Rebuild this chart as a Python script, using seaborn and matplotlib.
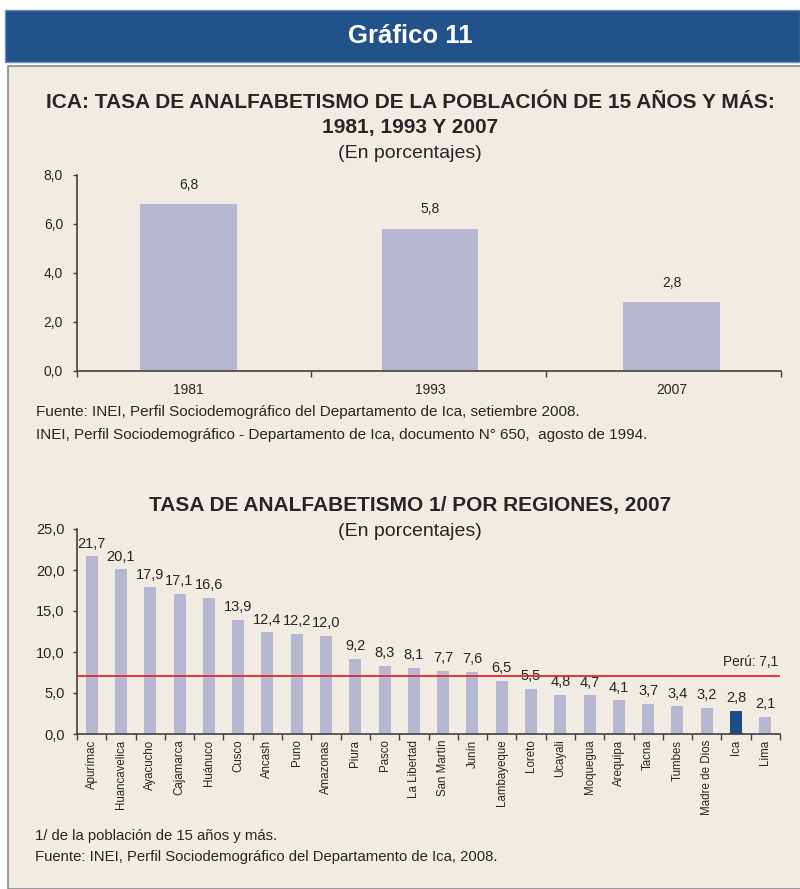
import matplotlib
matplotlib.use("Agg")
import matplotlib.pyplot as plt
import seaborn as sns
import numpy as np
from matplotlib.patches import Rectangle

# ---- data ----
years = ["1981", "1993", "2007"]
ica_rates = [6.8, 5.8, 2.8]

regions = ["Apurímac", "Huancavelica", "Ayacucho", "Cajamarca", "Huánuco", "Cusco",
           "Ancash", "Puno", "Amazonas", "Piura", "Pasco", "La Libertad", "San Martín",
           "Junín", "Lambayeque", "Loreto", "Ucayali", "Moquegua", "Arequipa", "Tacna",
           "Tumbes", "Madre de Dios", "Ica", "Lima"]
region_rates = [21.7, 20.1, 17.9, 17.1, 16.6, 13.9, 12.4, 12.2, 12.0, 9.2, 8.3, 8.1,
                7.7, 7.6, 6.5, 5.5, 4.8, 4.7, 4.1, 3.7, 3.4, 3.2, 2.8, 2.1]
peru_rate = 7.1
highlight = "Ica"

top_yticks = [0, 2, 4, 6, 8]
bot_yticks = [0, 5, 10, 15, 20, 25]

# ---- style ----
sns.set_theme(style="white")
REG = ["Liberation Sans", "DejaVu Sans"]
plt.rcParams["font.family"] = REG

BG = "#f0ece4"
BAR = "#b6b7d1"
DARKBAR = "#1f4e86"
BLUE = "#21538a"
TXT = "#262626"
AX = "#404040"

W, H = 800, 889
fig = plt.figure(figsize=(W / 100, H / 100), dpi=100)
fig.patch.set_facecolor("white")

def fx(px):
    return px / W

def fy(py):
    return 1 - py / H

# header band
fig.patches.append(Rectangle((fx(5), fy(62)), fx(800 - 5), (62 - 10) / H,
                             transform=fig.transFigure, facecolor=BLUE,
                             edgecolor="#6f8fb5", linewidth=1.0, zorder=-5))
fig.text(fx(410), fy(36), "Gráfico 11", ha="center", va="center", color="white",
         fontsize=18.5, fontweight="bold")

# cream panel
fig.patches.append(Rectangle((fx(8), 0), fx(800), fy(66),
                             transform=fig.transFigure, facecolor=BG,
                             edgecolor="#8a8a8a", linewidth=1.2, zorder=-5))

def fmt(v):
    return f"{v:.1f}".replace(".", ",")

def style_axes(ax, xlim, minor, ylim, yticks, labsize, xpad, ypad):
    ax.set_facecolor("none")
    ax.set_ylim(*ylim)
    ax.set_xlim(*xlim)
    ax.set_yticks(yticks)
    ax.set_yticklabels([fmt(t) for t in yticks], fontsize=labsize, color=TXT)
    ax.set_xticks(minor, minor=True)
    ax.tick_params(axis="x", which="major", length=0, pad=xpad)
    ax.tick_params(axis="x", which="minor", length=4, width=1, color=AX, direction="out", bottom=True)
    ax.tick_params(axis="y", which="major", length=3, width=1, color=AX, direction="out", left=True, pad=ypad)
    for s in ["top", "right"]:
        ax.spines[s].set_visible(False)
    for s in ["left", "bottom"]:
        ax.spines[s].set_color(AX)
        ax.spines[s].set_linewidth(1.2)
    ax.set_xlabel("")
    ax.set_ylabel("")
    ax.grid(False)

# ---- top chart ----
fig.text(fx(410), fy(103), "ICA: TASA DE ANALFABETISMO DE LA POBLACIÓN DE 15 AÑOS Y MÁS:",
         ha="center", va="center", fontsize=15, fontweight="bold", color=TXT)
fig.text(fx(410), fy(128), "1981, 1993 Y 2007", ha="center", va="center",
         fontsize=15, fontweight="bold", color=TXT)
fig.text(fx(410), fy(153), "(En porcentajes)", ha="center", va="center",
         fontsize=14, color=TXT)

ax1 = fig.add_axes([fx(77), 1 - 371 / H, fx(781 - 77), (371 - 175) / H])
sns.barplot(x=years, y=ica_rates, color=BAR, width=0.40, saturation=1,
            linewidth=0, edgecolor="none", ax=ax1)
style_axes(ax1, (-0.462, 2.453), [-0.462, 0.507, 1.480, 2.453], (0, 8), top_yticks, 10, 9, 7)
ax1.set_xticks(np.arange(len(years)))
ax1.set_xticklabels(years, fontsize=10, color=TXT)
ax1.bar_label(ax1.containers[0], labels=[fmt(v) for v in ica_rates], padding=9,
              fontsize=10, color=TXT)

fig.text(fx(36), fy(412), "Fuente: INEI, Perfil Sociodemográfico del Departamento de Ica, setiembre 2008.",
         ha="left", va="center", fontsize=11, color=TXT)
fig.text(fx(36), fy(435), "INEI, Perfil Sociodemográfico - Departamento de Ica, documento N° 650,  agosto de 1994.",
         ha="left", va="center", fontsize=11, color=TXT)

# ---- bottom chart ----
fig.text(fx(410), fy(505), "TASA DE ANALFABETISMO 1/ POR REGIONES, 2007", ha="center", va="center",
         fontsize=15, fontweight="bold", color=TXT)
fig.text(fx(410), fy(531), "(En porcentajes)", ha="center", va="center",
         fontsize=14, color=TXT)

ax2 = fig.add_axes([fx(77), 1 - 734 / H, fx(780 - 77), (734 - 529) / H])
colors = [DARKBAR if r == highlight else BAR for r in regions]
sns.barplot(x=regions, y=region_rates, hue=regions, palette=colors, legend=False,
            width=0.41, saturation=1, linewidth=0, edgecolor="none", ax=ax2)
n = len(regions)
style_axes(ax2, (-0.5, n - 0.5), np.arange(-0.5, n, 1.0), (0, 25), bot_yticks, 10.5, 4, 6)
ax2.set_xticks(np.arange(n))
ax2.set_xticklabels(regions, rotation=90, fontsize=8.3, color=TXT, va="top", ha="center")
for cont, v in zip(ax2.containers, region_rates):
    ax2.bar_label(cont, labels=[fmt(v)], padding=4, fontsize=10.5, color=TXT)
ax2.axhline(peru_rate, color="#e8232a", linewidth=1.3, zorder=3)
ax2.annotate(f"Perú: {fmt(peru_rate)}", xy=(1, peru_rate), xycoords=("axes fraction", "data"),
             xytext=(-1, 5), textcoords="offset points", ha="right", va="bottom",
             fontsize=9.8, color=TXT)

fig.text(fx(35), fy(836), "1/ de la población de 15 años y más.", ha="left", va="center",
         fontsize=10.75, color=TXT)
fig.text(fx(35), fy(857), "Fuente: INEI, Perfil Sociodemográfico del Departamento de Ica, 2008.",
         ha="left", va="center", fontsize=10.75, color=TXT)

fig.savefig("out.png", dpi=100, facecolor=fig.get_facecolor())
